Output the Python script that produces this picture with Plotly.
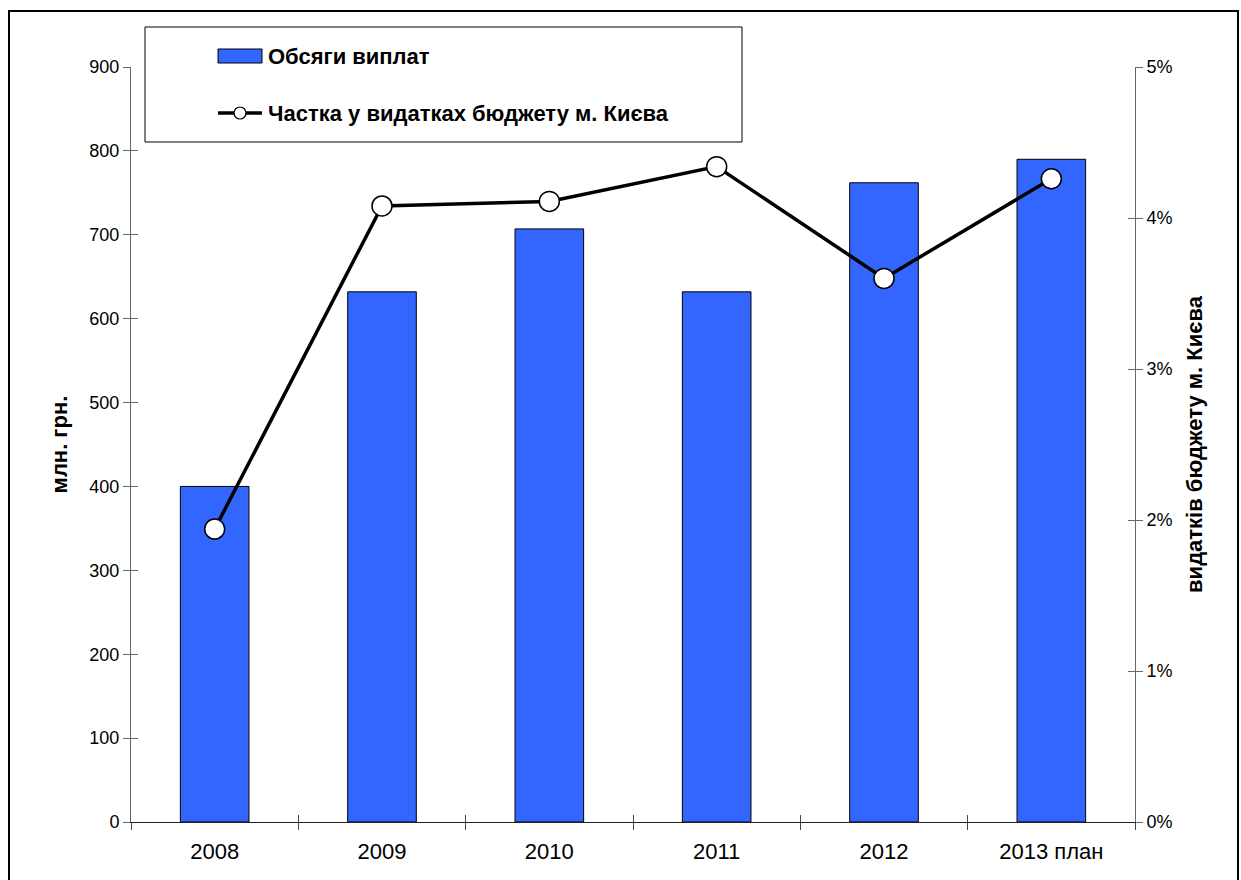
import plotly.graph_objects as go

# Виплати за роками та частка у видатках бюджету
years = ["2008", "2009", "2010", "2011", "2012", "2013 план"]
payments = [400, 632, 707, 632, 762, 790]          # млн. грн.
share = [0.0194, 0.0408, 0.0411, 0.0434, 0.0360, 0.0426]  # частка у видатках

bar_name = "Обсяги виплат"
line_name = "Частка у видатках бюджету м. Києва"
left_title = "млн. грн."
right_title = "видатків бюджету м. Києва"

FONT = "Liberation Sans, Arial, sans-serif"
BLUE = "#3366FF"
AXIS_GREY = "#666666"

W, H = 1241, 880
L, R, T, B = 131, 106, 67, 58
PW, PH = W - L - R, H - T - B


def px_x(x):
    return (x - L) / PW


def px_y(y):
    return (H - B - y) / PH


fig = go.Figure()

fig.add_trace(go.Bar(
    x=years, y=payments, name=bar_name,
    marker=dict(color=BLUE, line=dict(color="#000000", width=1)),
    yaxis="y", showlegend=False,
))

fig.add_trace(go.Scatter(
    x=years, y=share, name=line_name, mode="lines+markers",
    line=dict(color="#000000", width=3.5),
    marker=dict(symbol="circle", size=20, color="#FFFFFF",
                line=dict(color="#000000", width=1.5)),
    yaxis="y2", showlegend=False,
))

# empty traces that keep the tick-only overlay axes on the page
for xa, ya in (("x2", "y"), ("x", "y3"), ("x", "y4")):
    fig.add_trace(go.Scatter(x=[], y=[], xaxis=xa, yaxis=ya,
                             showlegend=False, hoverinfo="skip"))

tick_font = dict(family=FONT, size=18, color="#000000")
title_font = dict(family=FONT, size=22, color="#000000")

fig.update_layout(
    width=W, height=H,
    margin=dict(l=L, r=R, t=T, b=B, autoexpand=False),
    paper_bgcolor="#FFFFFF", plot_bgcolor="#FFFFFF",
    bargap=0.59,
    font=dict(family=FONT, color="#000000"),
    xaxis=dict(
        type="category", range=[-0.5, 5.5],
        showline=True, linecolor="#222222", linewidth=1,
        ticks="outside", ticklen=7, tickcolor="#444444",
        tickson="boundaries", showgrid=False, zeroline=False,
        ticklabelstandoff=10,
        tickfont=dict(family=FONT, size=22, color="#000000"),
    ),
    yaxis=dict(
        range=[0, 900], dtick=100, tick0=0,
        showline=True, linecolor=AXIS_GREY, linewidth=1,
        ticks="outside", ticklen=7, tickcolor=AXIS_GREY,
        showgrid=False, zeroline=False, tickfont=tick_font,
        title=dict(text="<b>" + left_title + "</b>", font=title_font),
    ),
    yaxis2=dict(
        range=[0, 0.05], dtick=0.01, tick0=0, tickformat=".0%",
        overlaying="y", side="right", anchor="x",
        showline=True, linecolor=AXIS_GREY, linewidth=1,
        ticks="outside", ticklen=7, tickcolor=AXIS_GREY,
        showgrid=False, zeroline=False, tickfont=tick_font,
        title=dict(text="<b>" + right_title + "</b>", font=title_font,
                   standoff=14),
    ),
    # inner halves of the crossing tick marks
    xaxis2=dict(
        overlaying="x", anchor="y", side="bottom", type="linear",
        range=[-0.5, 5.5], tickvals=[-0.5, 0.5, 1.5, 2.5, 3.5, 4.5, 5.5],
        ticks="inside", ticklen=7, tickcolor="#444444",
        showticklabels=False, showline=False, showgrid=False, zeroline=False,
    ),
    yaxis3=dict(
        overlaying="y", anchor="x", side="left",
        range=[0, 900], dtick=100, tick0=0,
        ticks="inside", ticklen=7, tickcolor=AXIS_GREY,
        showticklabels=False, showline=False, showgrid=False, zeroline=False,
    ),
    yaxis4=dict(
        overlaying="y", anchor="x", side="right",
        range=[0, 0.05], dtick=0.01, tick0=0,
        ticks="inside", ticklen=7, tickcolor=AXIS_GREY,
        showticklabels=False, showline=False, showgrid=False, zeroline=False,
    ),
    showlegend=False,
)

shapes = [
    # outer frame
    dict(type="rect", xref="paper", yref="paper",
         x0=px_x(9), x1=px_x(1238), y0=px_y(886), y1=px_y(11),
         line=dict(color="#000000", width=2), fillcolor="rgba(0,0,0,0)"),
    # legend box
    dict(type="rect", xref="paper", yref="paper",
         x0=px_x(145), x1=px_x(742), y0=px_y(142), y1=px_y(27),
         line=dict(color="#000000", width=1), fillcolor="#FFFFFF"),
    # legend swatch: bar
    dict(type="rect", xref="paper", yref="paper",
         x0=px_x(218), x1=px_x(262), y0=px_y(63), y1=px_y(49),
         line=dict(color="#000000", width=1), fillcolor=BLUE),
    # legend swatch: line
    dict(type="line", xref="paper", yref="paper",
         x0=px_x(218), x1=px_x(262), y0=px_y(113), y1=px_y(113),
         line=dict(color="#000000", width=3.5)),
    dict(type="circle", xref="paper", yref="paper",
         x0=px_x(234), x1=px_x(246), y0=px_y(119), y1=px_y(107),
         line=dict(color="#000000", width=1.2), fillcolor="#FFFFFF"),
]
fig.update_layout(shapes=shapes)

legend_font = dict(family=FONT, size=22, color="#000000")
fig.add_annotation(x=px_x(266), y=px_y(56), xref="paper", yref="paper",
                   text="<b>" + bar_name + "</b>", showarrow=False,
                   xanchor="left", yanchor="middle", font=legend_font)
fig.add_annotation(x=px_x(266), y=px_y(113), xref="paper", yref="paper",
                   text="<b>" + line_name + "</b>", showarrow=False,
                   xanchor="left", yanchor="middle", font=legend_font)

fig.write_html("out.html")
